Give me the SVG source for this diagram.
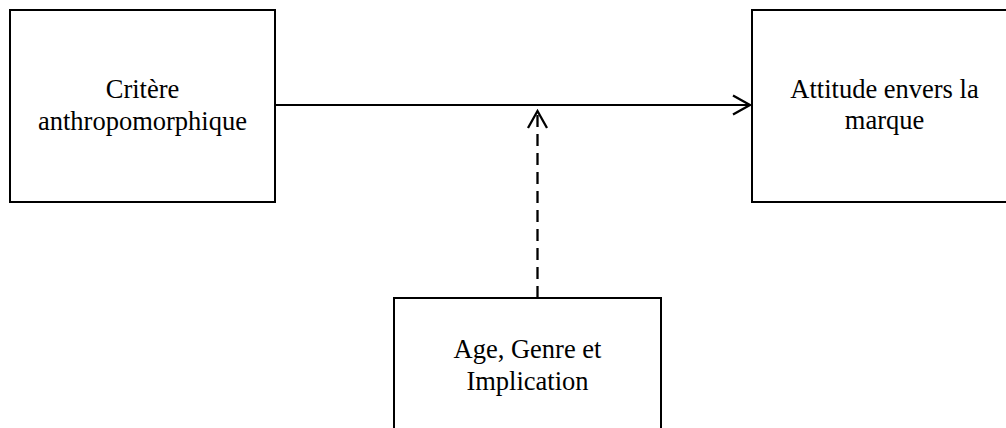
<svg xmlns="http://www.w3.org/2000/svg" width="1006" height="428" viewBox="0 0 1006 428">
  <style>
    .box { fill: #ffffff; stroke: #000000; stroke-width: 2; }
    .lbl { font-family: "Liberation Serif", "Times New Roman", serif; font-size: 26.5px; fill: #000000; text-anchor: middle; }
    .conn { fill: none; stroke: #000000; stroke-width: 2; }
    .dash { stroke-dasharray: 12 7; stroke-width: 2.3; }
  </style>
  <defs>
    <marker id="arrow" markerUnits="userSpaceOnUse" markerWidth="24" markerHeight="24" viewBox="-20 -12 24 24" refX="0" refY="0" orient="auto" overflow="visible">
      <path d="M-17,-9.5 L0,0 L-17,9.5" fill="none" stroke="#000000" stroke-width="2.3" stroke-dasharray="none"/>
    </marker>
  </defs>
  <rect width="1006" height="428" fill="#ffffff"/>
  <g id="node-critere">
    <rect class="box" x="10" y="10" width="265" height="192"/>
    <text class="lbl" x="142.5" y="98">Critère</text>
    <text class="lbl" x="142.5" y="130">anthropomorphique</text>
  </g>
  <g id="node-attitude">
    <rect class="box" x="752" y="10" width="265" height="192"/>
    <text class="lbl" x="884.5" y="98">Attitude envers la</text>
    <text class="lbl" x="884.5" y="129">marque</text>
  </g>
  <g id="node-moderateurs">
    <rect class="box" x="394" y="298" width="267" height="150"/>
    <text class="lbl" x="527.5" y="358">Age, Genre et</text>
    <text class="lbl" x="527.5" y="390">Implication</text>
  </g>
  <g id="connectors">
    <path class="conn" d="M275,105 L750,105" marker-end="url(#arrow)"/>
    <path class="conn dash" d="M537.5,298 L537.5,111" marker-end="url(#arrow)"/>
  </g>
</svg>
